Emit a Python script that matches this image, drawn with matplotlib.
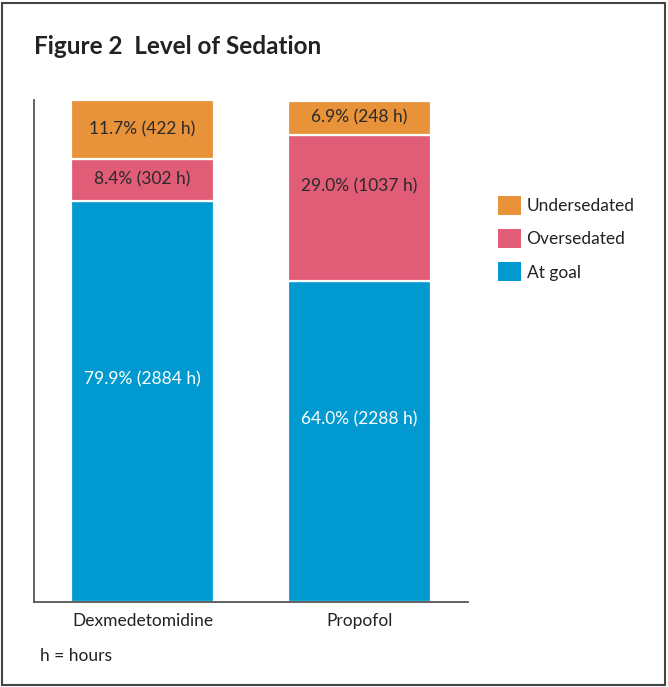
import matplotlib.pyplot as plt
from matplotlib.patches import Rectangle, Patch

plt.rcParams['font.family'] = ['Lato', 'DejaVu Sans']

groups = ['Dexmedetomidine', 'Propofol']
series = ['At goal', 'Oversedated', 'Undersedated']
pct = {
    'At goal': [79.9, 64.0],
    'Oversedated': [8.4, 29.0],
    'Undersedated': [11.7, 6.9],
}
hours = {
    'At goal': [2884, 2288],
    'Oversedated': [302, 1037],
    'Undersedated': [422, 248],
}
colors = {'At goal': '#0099d0', 'Oversedated': '#e15c77', 'Undersedated': '#e8923a'}
text_colors = {'At goal': 'white', 'Oversedated': '#2a2a2a', 'Undersedated': '#2a2a2a'}

W, H = 668, 687
fig = plt.figure(figsize=(W / 100, H / 100), dpi=100)
ax = fig.add_axes([34 / W, 1 - 602 / H, (468 - 34) / W, (602 - 100) / H])

x = range(len(groups))
bottom = [0.0, 0.0]
for s in series:
    ax.bar(x, pct[s], bottom=bottom, width=0.655, color=colors[s],
           edgecolor='white', linewidth=1.6)
    for i in x:
        yc = bottom[i] + pct[s][i] / 2
        # labels in tall segments sit a bit above the middle in the original
        if pct[s][i] > 20:
            yc += 4.3
        ax.text(i, yc, f'{pct[s][i]:.1f}% ({hours[s][i]} h)', ha='center', va='center',
                fontsize=12.5, color=text_colors[s])
    bottom = [b + v for b, v in zip(bottom, pct[s])]

ax.set_xlim(-0.5, 1.5)
ax.set_ylim(0, 100)
ax.spines['top'].set_visible(False)
ax.spines['right'].set_visible(False)
for sp in ('left', 'bottom'):
    ax.spines[sp].set_color('#555555')
    ax.spines[sp].set_linewidth(1.3)
ax.set_yticks([])
ax.set_xticks(list(x))
ax.set_xticklabels(groups, fontsize=12.5, color='#222222')
ax.tick_params(axis='x', length=0, pad=8)

fig.text(34 / W, 1 - 47 / H, 'Figure 2  Level of Sedation', fontsize=17.5,
         fontweight='bold', color='#222222', va='center', ha='left')
fig.text(40 / W, 1 - 656 / H, 'h = hours', fontsize=12.5, color='#222222',
         va='center', ha='left')

handles = [Patch(facecolor=colors[s], label=s) for s in reversed(series)]
fig.legend(handles=handles, loc='upper left', bbox_to_anchor=(491 / W, 1 - 189 / H),
           frameon=False, fontsize=12.5, handlelength=1.3, handleheight=1.3,
           handletextpad=0.35, labelspacing=0.82, borderaxespad=0, labelcolor='#222222')

fig.patches.append(Rectangle((2 / W, 2 / H), (W - 5) / W, (H - 5) / H, transform=fig.transFigure,
                             fill=False, edgecolor='#444444', linewidth=1.5))

fig.savefig('out.png', dpi=100)
